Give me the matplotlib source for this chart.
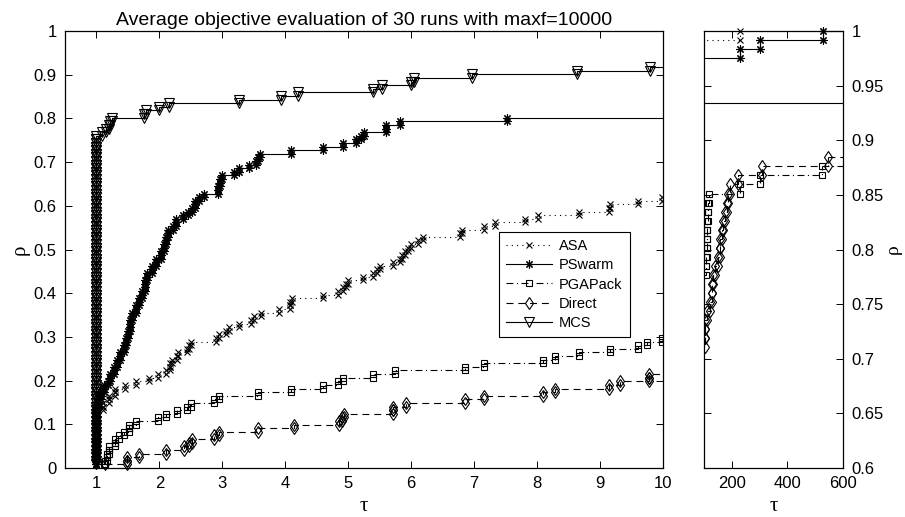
import numpy as np
import matplotlib
matplotlib.use("Agg")
import matplotlib.pyplot as plt
from matplotlib.transforms import Bbox, TransformedBbox

# Performance profiles: fraction of the test problems (rho) solved within a
# factor tau of the best solver, average objective evaluation of 30 runs.
N_PROBLEMS = 121

asa_tau = [1.0, 1.1, 1.2, 1.3, 1.46, 1.62, 1.83, 1.97, 2.1, 2.17, 2.2, 2.28, 2.3,
           2.44, 2.47, 2.5, 2.9, 2.95, 3.05, 3.11, 3.27, 3.45, 3.51, 3.62, 3.9,
           4.07, 4.1, 4.6, 4.83, 4.91, 4.97, 4.99, 5.23, 5.39, 5.45, 5.5, 5.71,
           5.82, 5.85, 5.9, 5.95, 6.0, 6.11, 6.19, 6.77, 6.8, 7.15, 7.33, 7.81,
           8.02, 8.66, 9.14, 9.16, 9.61, 9.99, 50, 229]
asa_rho = [0.132, 0.149, 0.165, 0.182, 0.190, 0.198, 0.207, 0.215, 0.223, 0.240,
           0.248, 0.256, 0.264, 0.273, 0.281, 0.289, 0.298, 0.306, 0.314, 0.322,
           0.331, 0.339, 0.347, 0.355, 0.364, 0.380, 0.388, 0.397, 0.405, 0.413,
           0.421, 0.430, 0.438, 0.446, 0.455, 0.463, 0.471, 0.479, 0.488, 0.496,
           0.504, 0.512, 0.521, 0.529, 0.537, 0.545, 0.554, 0.562, 0.570, 0.579,
           0.587, 0.595, 0.603, 0.612, 0.620, 0.992, 1.0]

pswarm_tau = [1.0, 1.03, 1.07, 1.12, 1.18, 1.22, 1.28, 1.33, 1.38, 1.43, 1.47,
              1.50, 1.53, 1.57, 1.63, 1.67, 1.72, 1.77, 1.81, 1.88, 1.94, 2.03,
              2.08, 2.11, 2.14, 2.22, 2.27, 2.38, 2.45, 2.52, 2.57, 2.63, 2.71,
              2.93, 2.96, 2.99, 3.19, 3.27, 3.43, 3.53, 3.57, 3.6, 4.09, 4.6,
              4.91, 5.13, 5.2, 5.25, 5.6, 5.82, 7.52, 50, 229, 301, 527]
pswarm_rho = [0.140, 0.157, 0.174, 0.190, 0.198, 0.215, 0.231, 0.248, 0.264,
              0.281, 0.298, 0.314, 0.339, 0.355, 0.372, 0.388, 0.405, 0.430,
              0.446, 0.463, 0.479, 0.496, 0.512, 0.529, 0.545, 0.554, 0.570,
              0.579, 0.587, 0.595, 0.612, 0.620, 0.628, 0.645, 0.661, 0.669,
              0.678, 0.686, 0.694, 0.702, 0.711, 0.719, 0.727, 0.736, 0.744,
              0.752, 0.760, 0.769, 0.785, 0.793, 0.802, 0.975, 0.983, 0.992, 1.0]

pgapack_tau = [1.12, 1.14, 1.17, 1.2, 1.3, 1.36, 1.44, 1.51, 1.62, 1.97, 2.1,
               2.28, 2.44, 2.5, 2.87, 2.95, 3.56, 4.09, 4.6, 4.83, 4.91, 5.39,
               5.74, 6.85, 7.15, 8.1, 8.29, 8.66, 9.16, 9.61, 9.75, 9.99, 50,
               107, 108, 109, 110, 111, 112, 113, 115, 118, 229, 301, 524]
pgapack_rho = [0.008, 0.017, 0.033, 0.050, 0.066, 0.074, 0.083, 0.099, 0.107,
               0.116, 0.124, 0.132, 0.140, 0.149, 0.157, 0.165, 0.174, 0.182,
               0.190, 0.198, 0.207, 0.215, 0.223, 0.231, 0.240, 0.248, 0.256,
               0.264, 0.273, 0.281, 0.289, 0.298, 0.777, 0.785, 0.793, 0.802,
               0.810, 0.818, 0.826, 0.835, 0.843, 0.851, 0.860, 0.868, 0.876]

direct_tau = [1.14, 1.49, 1.67, 2.1, 2.39, 2.47, 2.52, 2.87, 2.95, 3.56, 4.14,
              4.86, 4.9, 4.94, 5.71, 5.92, 6.85, 7.15, 8.1, 8.29, 9.14, 9.32,
              9.77, 50, 102, 103, 104, 110, 121, 127, 128, 133, 139, 151, 157,
              158, 164, 170, 176, 182, 187, 193, 223, 310, 547]
direct_rho = [0.008, 0.025, 0.033, 0.041, 0.050, 0.058, 0.066, 0.074, 0.083,
              0.091, 0.099, 0.107, 0.116, 0.124, 0.140, 0.149, 0.157, 0.165,
              0.174, 0.182, 0.190, 0.198, 0.215, 0.711, 0.719, 0.727, 0.736,
              0.744, 0.752, 0.760, 0.769, 0.777, 0.785, 0.793, 0.802, 0.810,
              0.818, 0.826, 0.835, 0.843, 0.851, 0.860, 0.868, 0.876, 0.884]

mcs_tau = [1.0, 1.09, 1.15, 1.2, 1.22, 1.25, 1.75, 1.78, 1.99, 2.15, 3.27, 3.93,
           4.2, 5.39, 5.53, 6.0, 6.05, 6.96, 8.63, 9.79, 50]
mcs_rho = [0.760, 0.769, 0.777, 0.785, 0.793, 0.802, 0.810, 0.818, 0.826, 0.835,
           0.843, 0.851, 0.860, 0.868, 0.876, 0.884, 0.893, 0.901, 0.909, 0.917,
           0.934]

series = [
    ("ASA", asa_tau, asa_rho, dict(marker="x", ms=4.5, dashes=(0.8, 3.0))),
    ("PSwarm", pswarm_tau, pswarm_rho, dict(marker=(8, 2, 0), ms=6, linestyle="-")),
    ("PGAPack", pgapack_tau, pgapack_rho, dict(marker="s", ms=5, dashes=(5, 2.5, 0.8, 2.5))),
    ("Direct", direct_tau, direct_rho, dict(marker="d", ms=6.5, dashes=(5, 3.5))),
    ("MCS", mcs_tau, mcs_rho, dict(marker="v", ms=7, linestyle="-")),
]

plt.rcParams["font.family"] = ["Liberation Sans", "DejaVu Sans"]
plt.rcParams["lines.scale_dashes"] = False


def profile_stairs(tau, rho, n=N_PROBLEMS):
    """Stairs vertices with one step per problem (ties stack at equal tau)."""
    pt_t, pt_r = [], []
    prev = 0
    for t, r in zip(tau, rho):
        k = max(prev + 1, int(round(r * n)))
        for j in range(prev + 1, k + 1):
            pt_t.append(t)
            pt_r.append(j / n)
        prev = k
    xs, ys = [pt_t[0]], [pt_r[0]]
    for i in range(1, len(pt_t)):
        xs += [pt_t[i], pt_t[i]]
        ys += [pt_r[i - 1], pt_r[i]]
    return np.array(xs), np.array(ys)


fig = plt.figure(figsize=(9.05, 5.17), dpi=100)
ax1 = fig.add_axes([65 / 905, 49 / 517, 598 / 905, 437 / 517])
ax2 = fig.add_axes([704 / 905, 49 / 517, 139 / 905, 437 / 517])

for ax in (ax1, ax2):
    clip = TransformedBbox(Bbox([[0, -0.02], [1, 1.02]]), ax.transAxes)
    for name, tau, rho, style in series:
        xs, ys = profile_stairs(tau, rho)
        st = dict(style)
        line_kw = {k: v for k, v in st.items() if k in ("dashes", "linestyle")}
        ln, = ax.plot(xs, ys, color="black", lw=0.8, mfc="none", mec="black",
                      mew=0.8, marker=st["marker"], ms=st["ms"], label=name,
                      **line_kw)
        ext, = ax.plot([xs[-1], 1e4], [ys[-1], ys[-1]], color="black", lw=0.8,
                       **line_kw)
        for a in (ln, ext):
            a.set_clip_path(None)
            a.set_clip_box(clip)

# left panel
ax1.set_xlim(0.5, 10)
ax1.set_ylim(0, 1)
ax1.set_xticks(range(1, 11))
ax1.set_yticks(np.arange(0, 1.01, 0.1))
ax1.set_yticklabels([f"{v:g}" for v in np.arange(0, 1.01, 0.1).round(1)])
ax1.set_title("Average objective evaluation of 30 runs with maxf=10000",
              fontsize=14, pad=4)
ax1.set_xlabel("τ", family="Liberation Serif", fontsize=15, labelpad=4)
ax1.set_ylabel("ρ", family="Liberation Serif", fontsize=15, labelpad=3)
ax1.tick_params(direction="in", top=True, right=True, length=5, width=0.7,
                labelsize=12, pad=6)

leg = ax1.legend(loc="upper left", bbox_to_anchor=(0.726, 0.54),
                 borderaxespad=0, fontsize=10.5, handlelength=3.1,
                 handletextpad=0.5, labelspacing=0.35, borderpad=0.5,
                 fancybox=False, framealpha=1, edgecolor="black")
leg.get_frame().set_linewidth(0.8)

# right panel
ax2.set_xlim(100, 600)
ax2.set_ylim(0.6, 1)
ax2.set_xticks([200, 400, 600])
yt = np.round(np.arange(0.6, 1.001, 0.05), 2)
ax2.set_yticks(yt)
ax2.set_yticklabels([f"{v:g}" for v in yt])
ax2.yaxis.set_label_position("right")
ax2.tick_params(direction="in", top=True, right=True, left=True,
                labelleft=False, labelright=True, length=5, width=0.7,
                labelsize=12, pad=6)
ax2.set_xlabel("τ", family="Liberation Serif", fontsize=15, labelpad=4)
ax2.set_ylabel("ρ", family="Liberation Serif", fontsize=14, labelpad=1,
               rotation=90)

for ax in (ax1, ax2):
    for s in ax.spines.values():
        s.set_linewidth(0.9)

fig.savefig("out.png", dpi=100)
